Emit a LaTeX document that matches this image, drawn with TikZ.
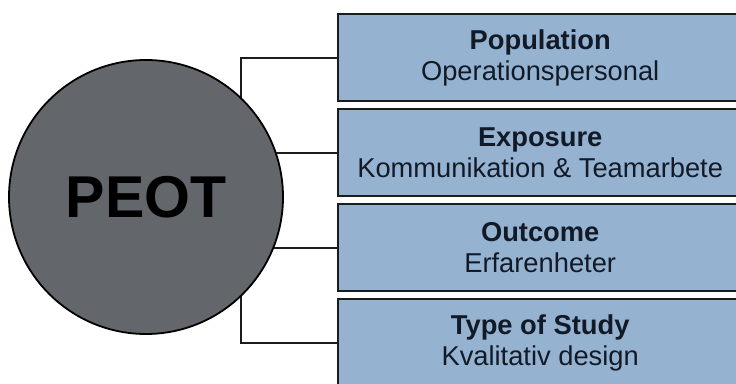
\documentclass[tikz,border=0pt]{standalone}
\usepackage{fontspec}
\setmainfont{Liberation Sans}
\begin{document}
\definecolor{boxfill}{HTML}{95B3D0}
\definecolor{discfill}{HTML}{63666A}
\definecolor{inkdark}{HTML}{121A28}
\definecolor{edgedark}{HTML}{1C1C1C}
\begin{tikzpicture}[x=1pt,y=-1pt,
  itembox/.style={draw=edgedark,line width=2.4pt,fill=boxfill,anchor=north west,
    minimum width=404pt,minimum height=87pt,inner sep=0pt,align=center,
    text=inkdark,font=\fontsize{27.3}{31}\selectfont},
  disc/.style={circle,draw=black,line width=1.8pt,fill=discfill,minimum size=274pt,
    inner sep=0pt,font=\fontsize{59}{60}\selectfont\bfseries,text=black},
  link/.style={draw=edgedark,line width=2pt}]
\useasboundingbox (0,0) rectangle (736,383);
\clip (0,0) rectangle (736,383);
\node[itembox] (pop) at (337,13)  {\textbf{Population}\\Operationspersonal};
\node[itembox] (exp) at (337,108) {\textbf{Exposure}\\Kommunikation \& Teamarbete};
\node[itembox] (out) at (337,203) {\textbf{Outcome}\\Erfarenheter};
\node[itembox] (tos) at (337,298) {\textbf{Type of Study}\\Kvalitativ design};
\coordinate (spine) at (241,0);
\coordinate (hub) at (146,197);
% bracket joining the four boxes, partly hidden behind the disc
\draw[link] (pop.west) -- (pop.west -| spine) |- (tos.west);
\draw[link] (exp.west) -- (exp.west -| hub);
\draw[link] (out.west) -- (out.west -| hub);
\node[disc] (peot) at (hub) {PEOT};
\end{tikzpicture}
\end{document}
